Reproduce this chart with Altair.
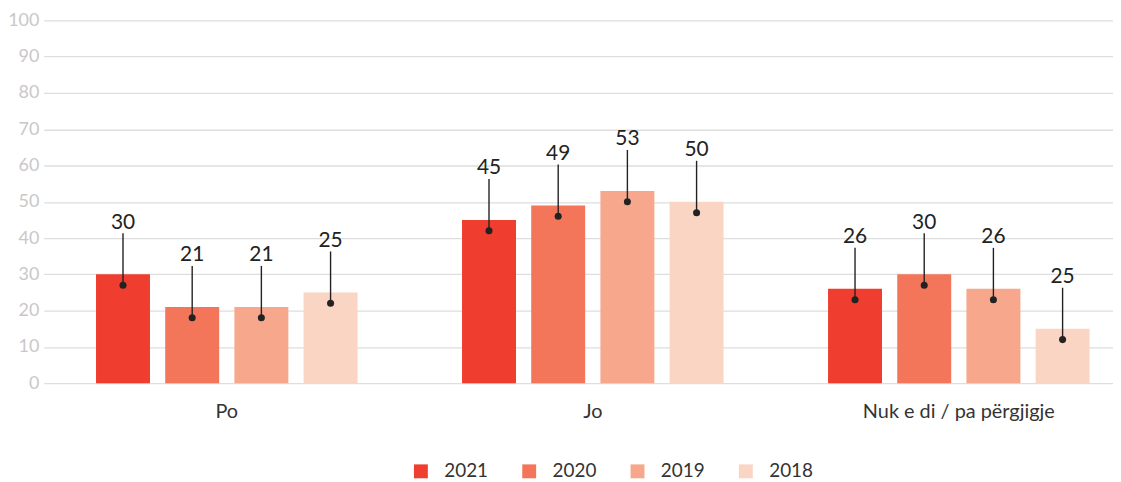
import altair as alt
import pandas as pd

categories = ["Po", "Jo", "Nuk e di / pa përgjigje"]
years = ["2021", "2020", "2019", "2018"]
bar_values = {
    "2021": [30, 45, 26],
    "2020": [21, 49, 30],
    "2019": [21, 53, 26],
    "2018": [25, 50, 15],
}
label_values = {
    "2021": [30, 45, 26],
    "2020": [21, 49, 30],
    "2019": [21, 53, 26],
    "2018": [25, 50, 25],
}
y_ticks = list(range(0, 101, 10))
colors = ["#ef3e2f", "#f3765a", "#f7a88c", "#fad5c4"]

rows = []
for y in years:
    for i, c in enumerate(categories):
        rows.append({"cat": c, "year": y, "v": bar_values[y][i], "lab": label_values[y][i]})
df = pd.DataFrame(rows)

FONT = "Lato"

x = alt.X("cat:N", sort=categories, title=None,
          scale=alt.Scale(range=[-11, 1094], paddingInner=0, paddingOuter=0),
          axis=alt.Axis(labelAngle=0, labelFontSize=20, labelColor="#333333", labelFont=FONT,
                        labelPadding=19, labelLimit=0, ticks=False, domain=False, grid=False))
xo = alt.XOffset("year:N", sort=years,
                 scale=alt.Scale(paddingInner=0.22, paddingOuter=0.755))

y_scale = alt.Scale(domain=[0, 100], nice=False)
y_axis = alt.Axis(values=y_ticks, labelFontSize=18, labelColor="#c8c8c8",
                  labelFont=FONT, labelPadding=16, ticks=False, domain=False,
                  labelOverlap=False, gridColor="#dedede", gridWidth=1.3, title=None)

base = alt.Chart(df).encode(x=x, xOffset=xo)

bars = base.mark_bar().encode(
    y=alt.Y("v:Q", title=None, scale=y_scale, axis=y_axis),
    color=alt.Color("year:N", sort=years, scale=alt.Scale(domain=years, range=colors),
                    legend=alt.Legend(title=None, orient="none", direction="horizontal",
                                      legendX=359, legendY=444, symbolType="square",
                                      symbolSize=196, symbolStrokeWidth=0,
                                      labelFontSize=19, labelFont=FONT, labelColor="#333333",
                                      labelOffset=14, columnPadding=31, padding=0)),
)

leader = base.transform_calculate(
    y_lo="datum.v - 3", y_hi="datum.v + 11.3"
).mark_rule(color="#222222", strokeWidth=1.4).encode(
    y=alt.Y("y_lo:Q", title=None, scale=y_scale, axis=y_axis), y2="y_hi:Q"
)

dots = base.transform_calculate(
    y_lo="datum.v - 3"
).mark_circle(color="#222222", opacity=1, size=50).encode(
    y=alt.Y("y_lo:Q", title=None, scale=y_scale, axis=y_axis))

texts = base.mark_text(fontSize=21, font=FONT, color="#222222", baseline="alphabetic",
                       dy=-46).encode(y=alt.Y("v:Q", title=None, scale=y_scale, axis=y_axis),
                                      text="lab:N")

chart = alt.layer(bars, leader, dots, texts).properties(
    width=1065, height=365,
    autosize=alt.AutoSizeParams(type="none"),
    padding={"left": 47, "top": 11, "right": 0, "bottom": 104},
).configure_view(stroke=None)

chart.save("out.html", embed_options={"renderer": "svg", "actions": False})
